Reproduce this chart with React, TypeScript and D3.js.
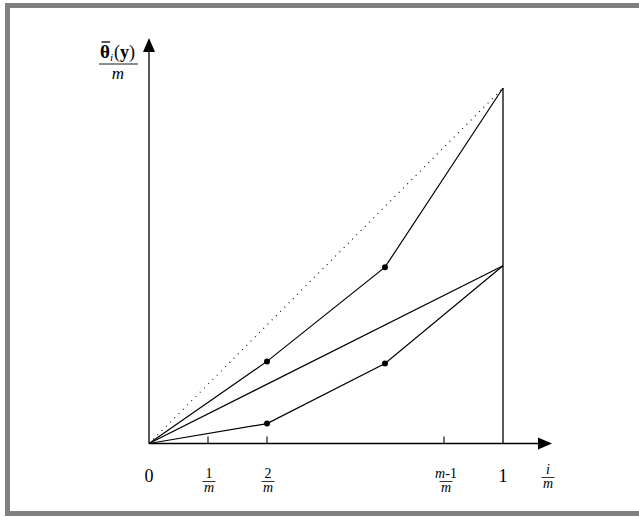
import React from "react";
import * as d3 from "d3";

// m = 6 partitions of the unit interval
const M = 6;
const tickSteps = [1, 2, M - 1];
const upperX = [0, 2 / 6, 4 / 6, 1];
const upperY = [0, 0.231, 0.496, 1];
const lowerX = [0, 2 / 6, 4 / 6, 1];
const lowerY = [0, 0.056, 0.225, 0.5];
const middleX = [0, 1];
const middleY = [0, 0.5];
const diagX = [0, 1];
const diagY = [0, 1];

const W = 639;
const H = 517;
const serif = "'Liberation Serif', 'Times New Roman', serif";

const x = d3.scaleLinear().domain([0, 1]).range([149, 503]);
const y = d3.scaleLinear().domain([0, 1]).range([443.5, 88]);

const Frac = ({ cx, top, num, size = 14 }: { cx: number; top: number; num: React.ReactNode; size?: number }) => (
  <g fontFamily={serif} fontSize={size}>
    <text x={cx} y={top} textAnchor="middle">{num}</text>
    <line x1={cx - 6.5} x2={cx + 6.5} y1={top + 3.5} y2={top + 3.5} stroke="#000" strokeWidth={0.8} />
    <text x={cx} y={top + 14} textAnchor="middle" fontStyle="italic">m</text>
  </g>
);

const App = () => {
  const line = d3.line<number>();
  const path = (xs: number[], ys: number[]) =>
    line(xs.map((v, i) => [x(v), y(ys[i])]) as any) as string;

  const dots: [number, number][] = [
    [upperX[1], upperY[1]],
    [upperX[2], upperY[2]],
    [lowerX[1], lowerY[1]],
    [lowerX[2], lowerY[2]],
  ];

  return (
    <svg width={W} height={H} style={{ position: "absolute", left: 0, top: 0 }}>
      <rect x={0} y={0} width={W} height={H} fill="#fff" />
      <rect x={7.5} y={5.5} width={W + 10} height={508} fill="none" stroke="#808080" strokeWidth={5} />

      {/* axes */}
      <line x1={x(0)} x2={540} y1={y(0)} y2={y(0)} stroke="#000" strokeWidth={1.3} />
      <path d={`M552,${y(0)} L538,${y(0) - 6} L538,${y(0) + 6} Z`} fill="#000" />
      <line x1={x(0)} x2={x(0)} y1={y(0)} y2={52} stroke="#000" strokeWidth={1.3} />
      <path d={`M${x(0)},38 L${x(0) - 6},52 L${x(0) + 6},52 Z`} fill="#000" />
      {tickSteps.map((t) => (
        <line key={t} x1={x(t / M)} x2={x(t / M)} y1={y(0)} y2={y(0) - 7} stroke="#000" strokeWidth={1.1} />
      ))}
      <line x1={x(1)} x2={x(1)} y1={y(0)} y2={y(1)} stroke="#000" strokeWidth={1.3} />

      {/* curves */}
      <path d={path(diagX, diagY)} fill="none" stroke="#000" strokeWidth={1.1} strokeDasharray="1 5" />
      <path d={path(upperX, upperY)} fill="none" stroke="#000" strokeWidth={1.2} />
      <path d={path(middleX, middleY)} fill="none" stroke="#000" strokeWidth={1.2} />
      <path d={path(lowerX, lowerY)} fill="none" stroke="#000" strokeWidth={1.2} />
      {dots.map(([a, b], i) => (
        <circle key={i} cx={x(a)} cy={y(b)} r={3} fill="#000" />
      ))}

      {/* x labels */}
      <text x={x(0)} y={482} textAnchor="middle" fontFamily={serif} fontSize={18}>0</text>
      <Frac cx={x(1 / M) + 1} top={478} num="1" />
      <Frac cx={x(2 / M) + 1} top={478} num="2" />
      <Frac cx={x((M - 1) / M) + 2} top={478} num={<tspan><tspan fontStyle="italic">m</tspan>-1</tspan>} />
      <text x={x(1)} y={482} textAnchor="middle" fontFamily={serif} fontSize={18}>1</text>
      <Frac cx={548} top={474} num={<tspan fontStyle="italic">i</tspan>} />

      {/* y label */}
      <g fontFamily={serif}>
        <text x={100} y={58} fontSize={19} fontWeight="bold">θ</text>
        <line x1={101.5} x2={110} y1={42} y2={42} stroke="#000" strokeWidth={1.3} />
        <text x={110} y={61} fontSize={11} fontStyle="italic">i</text>
        <text x={114} y={58} fontSize={18}>(<tspan fontWeight="bold">y</tspan>)</text>
        <line x1={99} x2={138} y1={64} y2={64} stroke="#000" strokeWidth={0.9} />
        <text x={118} y={79} fontSize={17} fontStyle="italic" textAnchor="middle">m</text>
      </g>
    </svg>
  );
};

export default App;
